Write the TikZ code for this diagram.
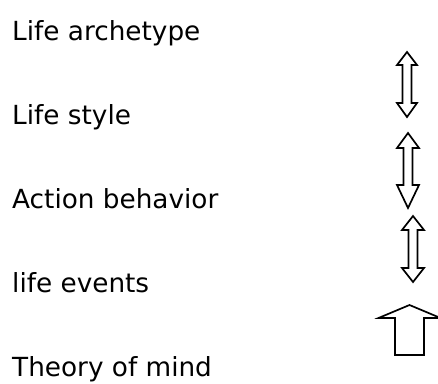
\documentclass[tikz,border=0pt]{standalone}
\usepackage{fontspec}
\setmainfont{DejaVu Sans}
\begin{document}
\begin{tikzpicture}[x=1pt,y=-1pt,
  lbl/.style={anchor=base west,inner sep=0pt,font=\fontsize{26.3}{30}\selectfont},
  hollow/.style={draw=black,line width=1.7pt,fill=white,line join=miter}]
\useasboundingbox (0,0) rectangle (438,383);
\node[lbl] (t1) at (12,40) {Life archetype};
\node[lbl] (t2) at (12,124) {Life style};
\node[lbl] (t3) at (12,208) {Action behavior};
\node[lbl] (t4) at (12,292) {life events};
\node[lbl] (t5) at (12,376) {Theory of mind};
% double arrows
\foreach \cx/\ta/\ba/\bb/\tb/\hw/\sw in {407/52/65/103/117/10/4.5, 408/133/148/185/208/11/4.5, 413/216/230/268/282/11/4.5}{
  \draw[hollow] (\cx,\ta) -- (\cx+\hw,\ba) -- (\cx+\sw,\ba) -- (\cx+\sw,\bb) -- (\cx+\hw,\bb)
    -- (\cx,\tb) -- (\cx-\hw,\bb) -- (\cx-\sw,\bb) -- (\cx-\sw,\ba) -- (\cx-\hw,\ba) -- cycle;
}
% single up arrow
\draw[hollow] (409.5,305) -- (440.5,318) -- (424,318) -- (424,355) -- (395,355) -- (395,318) -- (378.5,318) -- cycle;
\end{tikzpicture}
\end{document}
